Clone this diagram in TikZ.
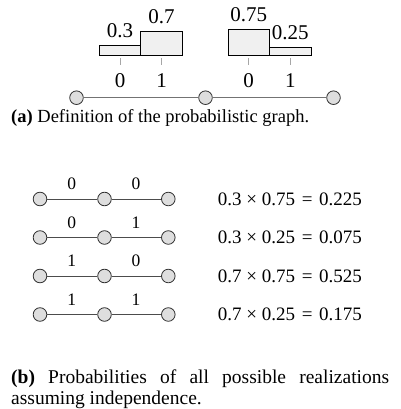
\documentclass[tikz,border=0pt]{standalone}
\usepackage{fontspec}
\setmainfont{Liberation Serif}
\begin{document}
\begin{tikzpicture}[x=1pt,y=-1pt,
  vtx/.style={circle, draw=black!80, fill=black!13, minimum size=13.6pt, inner sep=0pt, line width=0.8pt},
  topedge/.style={draw=black!55, line width=1.3pt},
  botedge/.style={draw=black!70, line width=0.9pt},
  bar/.style={draw=black, fill=black!6, line width=0.9pt},
  tickmark/.style={draw=black!35, line width=1pt},
  biglbl/.style={font=\fontsize{21}{24}\selectfont, inner sep=0pt},
  smlbl/.style={font=\fontsize{17.5}{20}\selectfont, inner sep=0pt},
  eqlbl/.style={font=\fontsize{19}{22}\selectfont, inner sep=0pt, anchor=west},
  captxt/.style={font=\fontsize{18.5}{21}\selectfont, inner sep=0pt, anchor=base west},
  captxtb/.style={font=\fontsize{19.5}{22}\selectfont, inner sep=0pt, anchor=base west}]
\useasboundingbox (0,0) rectangle (400,409);
% histograms
\draw[bar] (99.2,55.7) rectangle (140.8,45.2);
\draw[bar] (140.8,55.7) rectangle (182.4,31.2);
\draw[bar] (228,55.7) rectangle (269.5,29.4);
\draw[bar] (269.5,55.7) rectangle (311,47.0);
\node[biglbl, anchor=south] (p1) at (120,38.2) {0.3};
\node[biglbl, anchor=south] (p2) at (161.6,24.2) {0.7};
\node[biglbl, anchor=south] (p3) at (248.7,22.4) {0.75};
\node[biglbl, anchor=south] (p4) at (290.3,40.0) {0.25};
\draw[tickmark] (120,58) -- (120,65);
\draw[tickmark] (161.6,58) -- (161.6,65);
\draw[tickmark] (248.7,58) -- (248.7,65);
\draw[tickmark] (290.3,58) -- (290.3,65);
\node[biglbl] (b1) at (120,80.5) {0};
\node[biglbl] (b2) at (161.6,80.5) {1};
\node[biglbl] (b3) at (248.7,80.5) {0};
\node[biglbl] (b4) at (290.3,80.5) {1};
% top graph
\node[vtx] (t1) at (76.5,97.7) {};
\node[vtx] (t2) at (205.5,97.7) {};
\node[vtx] (t3) at (333.5,97.7) {};
\draw[topedge] (t1) -- (t2);
\draw[topedge] (t2) -- (t3);
\node[captxt] (capa) at (11,122) {\textbf{(a)} Definition of the probabilistic graph.};
% realizations
\foreach \r/\y/\la/\lb/\eq in {1/199/0/0/{0.3 × 0.75\hspace{0.35em}=\hspace{0.35em}0.225},
                               2/237.5/0/1/{0.3 × 0.25\hspace{0.35em}=\hspace{0.35em}0.075},
                               3/276/1/0/{0.7 × 0.75\hspace{0.35em}=\hspace{0.35em}0.525},
                               4/314.5/1/1/{0.7 × 0.25\hspace{0.35em}=\hspace{0.35em}0.175}}{
  \node[vtx] (r\r a) at (40,\y) {};
  \node[vtx] (r\r b) at (104.5,\y) {};
  \node[vtx] (r\r c) at (168.3,\y) {};
  \draw[botedge] (r\r a) -- (r\r b);
  \draw[botedge] (r\r b) -- (r\r c);
  \node[smlbl] (l\r a) at (71.7,\y-15) {\la};
  \node[smlbl] (l\r b) at (136,\y-15) {\lb};
  \node[eqlbl] (e\r) at (217.7,\y) {\eq};
}
\node[captxtb] (capb1) at (11,383) {\makebox[378pt][s]{\textbf{(b)} Probabilities of all possible realizations}};
\node[captxtb] (capb2) at (11,404) {assuming independence.};
\end{tikzpicture}
\end{document}
